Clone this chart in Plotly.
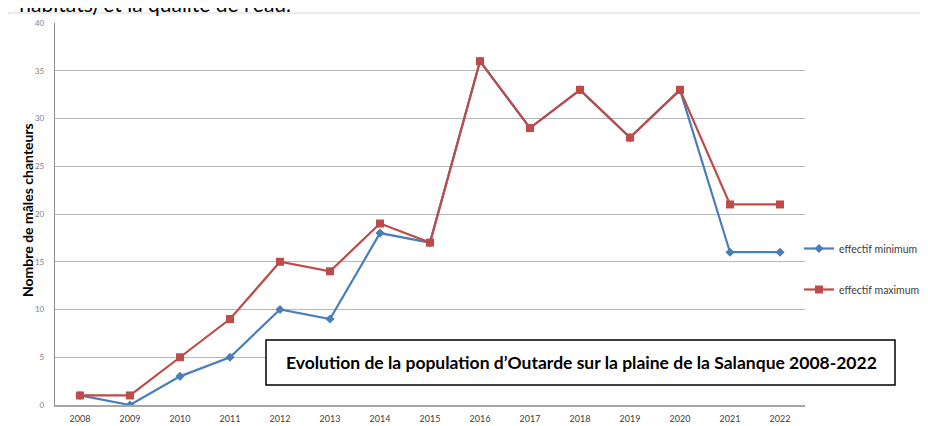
import plotly.graph_objects as go

years = ["2008", "2009", "2010", "2011", "2012", "2013", "2014", "2015",
         "2016", "2017", "2018", "2019", "2020", "2021", "2022"]
effectif_minimum = [1, 0, 3, 5, 10, 9, 18, 17, 36, 29, 33, 28, 33, 16, 16]
effectif_maximum = [1, 1, 5, 9, 15, 14, 19, 17, 36, 29, 33, 28, 33, 21, 21]
y_ticks = [0, 5, 10, 15, 20, 25, 30, 35, 40]

W, H = 928, 426
OFF = 8  # page body offset
# target plot area in screen pixels: x 55..805, y 23..405
SL, SR, ST, SB = 55, 805, 23, 405
L = SL - OFF
T = ST - OFF
R = W - (SR - OFF)
B = H - (SB - OFF)
pw, ph = W - L - R, H - T - B


def px(sx):
    return (sx - OFF - L) / pw


def py(sy):
    return (H - B - (sy - OFF)) / ph


FONT = "Lato"
BLUE = "#4A7EBB"
RED = "#BE4B48"

fig = go.Figure()
fig.add_trace(go.Scatter(
    x=years, y=effectif_minimum, name="effectif minimum", mode="lines+markers",
    line=dict(color=BLUE, width=2.2),
    marker=dict(symbol="diamond", size=7, color=BLUE),
    legendgroup="min", showlegend=True,
))
fig.add_trace(go.Scatter(
    x=years, y=effectif_maximum, name="effectif maximum", mode="lines+markers",
    line=dict(color=RED, width=2.2),
    marker=dict(symbol="square", size=8, color=RED),
    legendgroup="max", showlegend=True,
))

fig.update_layout(
    width=W, height=H,
    margin=dict(l=L, r=R, t=T, b=B, autoexpand=False),
    paper_bgcolor="white", plot_bgcolor="white",
    font=dict(family=FONT),
    showlegend=True,
    legend=dict(
        x=px(799), y=py(234), xanchor="left", yanchor="top",
        font=dict(family=FONT, size=10.5, color="#404040"),
        bgcolor="rgba(0,0,0,0)", itemwidth=30, tracegroupgap=22,
        traceorder="grouped",
    ),
    xaxis=dict(
        type="category", range=[-0.5, len(years) - 0.5],
        showgrid=False, showline=True, linecolor="#A6A6A6", linewidth=1.5,
        ticks="", tickfont=dict(family=FONT, size=9, color="#404040"),
        ticklabelstandoff=4,
    ),
    yaxis=dict(
        range=[0, 40], tickvals=y_ticks, showgrid=True, gridcolor="#B8B8B8",
        gridwidth=1.3, showline=True, linecolor="#8C8C8C", linewidth=1.3,
        zeroline=False, ticks="", tickfont=dict(family=FONT, size=8, color="#7F7F7F"),
        ticklabelstandoff=8,
    ),
    shapes=[
        dict(type="line", xref="paper", yref="paper", x0=px(6), x1=px(6),
             y0=py(13), y1=py(440), line=dict(color="#D9D9D9", width=1.2), layer="below"),
        dict(type="line", xref="paper", yref="paper", x0=px(6), x1=px(940),
             y0=py(13), y1=py(13), line=dict(color="#D9D9D9", width=1.2), layer="below"),
        dict(type="rect", xref="paper", yref="paper", x0=px(266), x1=px(895),
             y0=py(385), y1=py(340), fillcolor="white",
             line=dict(color="black", width=1.5), layer="above"),
    ],
    annotations=[
        dict(text="Evolution de la population d’Outarde sur la plaine de la Salanque 2008-2022",
             xref="paper", yref="paper", x=px(581), y=py(362), xanchor="center",
             yanchor="middle", showarrow=False,
             font=dict(family=FONT, size=17.5, color="black", weight="bold")),
        dict(text="Nombre de mâles chanteurs", textangle=-90,
             xref="paper", yref="paper", x=px(27), y=py(210), xanchor="center",
             yanchor="middle", showarrow=False,
             font=dict(family=FONT, size=14, color="black", weight="bold")),
        dict(text="(  habitats) et la qualité de l’eau.",
             xref="paper", yref="paper", x=px(1), y=py(4), xanchor="left",
             yanchor="middle", showarrow=False,
             font=dict(family=FONT, size=21, color="black")),
    ],
)

fig.write_html("out.html")
